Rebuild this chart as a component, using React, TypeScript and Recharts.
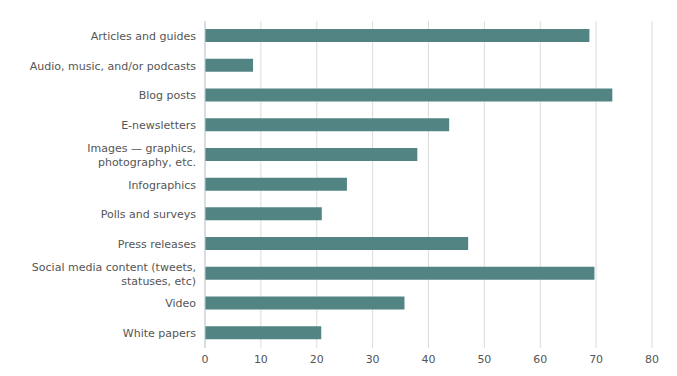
import React from 'react'
import { BarChart, Bar, XAxis, YAxis, CartesianGrid } from 'recharts'

const categories = [
  'Articles and guides',
  'Audio, music, and/or podcasts',
  'Blog posts',
  'E-newsletters',
  'Images — graphics,\nphotography, etc.',
  'Infographics',
  'Polls and surveys',
  'Press releases',
  'Social media content (tweets,\nstatuses, etc)',
  'Video',
  'White papers',
]

const values = [68.8, 8.6, 72.9, 43.7, 38.0, 25.4, 20.9, 47.1, 69.7, 35.7, 20.8]

const xTicks = [0, 10, 20, 30, 40, 50, 60, 70, 80]

const data = categories.map((name, i) => ({ name, value: values[i] }))

const fontFamily = '"DejaVu Sans", sans-serif'

// category label, split on newlines, right aligned next to the axis
function CategoryTick(props: any) {
  const { x, y, payload } = props
  const lines: string[] = String(payload.value).split('\n')
  const lineHeight = 14
  const startY = y - ((lines.length - 1) * lineHeight) / 2
  return (
    <text
      x={x}
      y={startY}
      textAnchor="end"
      fill="#555"
      fontSize={11}
      fontFamily={fontFamily}
      dominantBaseline="central"
    >
      {lines.map((line, i) => (
        <tspan key={i} x={x} y={startY + i * lineHeight} dominantBaseline="central">
          {line}
        </tspan>
      ))}
    </text>
  )
}

export default function App() {
  return (
    <div style={{ position: 'absolute', left: 0, top: 0, background: '#fff' }}>
      <BarChart
        width={677}
        height={376}
        data={data}
        layout="vertical"
        margin={{ top: 21, right: 25, left: 0, bottom: 8 }}
        barSize={13}
      >
        <CartesianGrid horizontal={false} stroke="#dcdcdc" />
        <XAxis
          type="number"
          domain={[0, 80]}
          ticks={xTicks}
          axisLine={false}
          tickLine={false}
          height={20}
          tick={{ fill: '#555', fontSize: 11, fontFamily }}
          tickMargin={1}
        />
        <YAxis
          type="category"
          dataKey="name"
          width={205}
          axisLine={{ stroke: '#c3cdd6' }}
          tickLine={false}
          tick={<CategoryTick />}
          tickMargin={3}
          interval={0}
        />
        <Bar dataKey="value" fill="#528484" isAnimationActive={false} />
      </BarChart>
    </div>
  )
}
